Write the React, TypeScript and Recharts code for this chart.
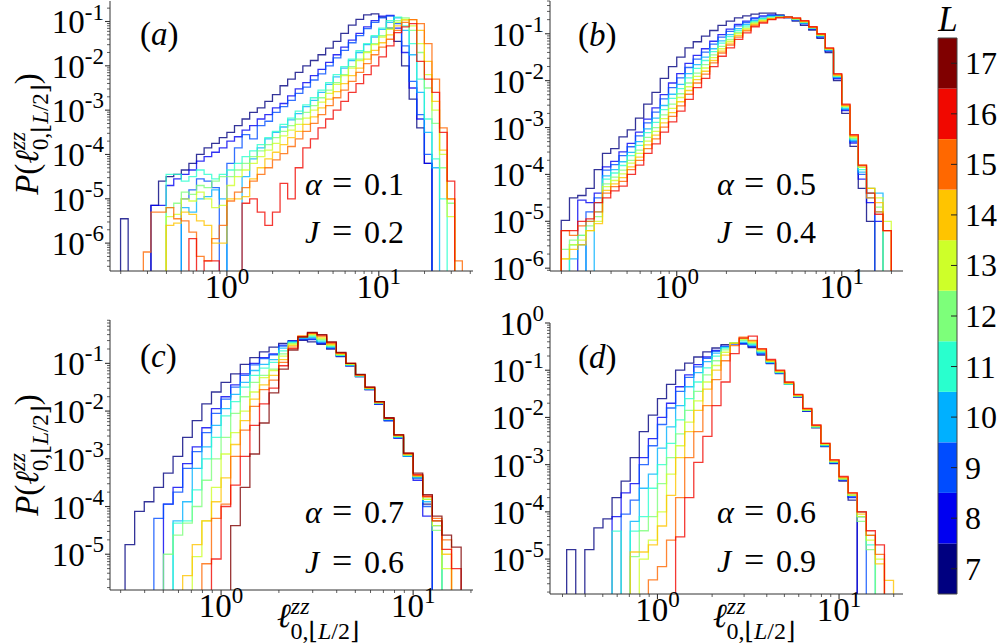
import React from 'react';
import { LineChart, Line, XAxis, YAxis, ComposedChart, ReferenceArea } from 'recharts';

const FONT = "Liberation Serif, DejaVu Serif, Times New Roman, Tinos, Nimbus Roman, FreeSerif, Noto Serif, serif";
const FLOOR = 1e-12;
const AXIS = '#333333';

// ---- colour scale (L = 7 .. 17) ----
const L_VALUES = [7, 8, 9, 10, 11, 12, 13, 14, 15, 16, 17];
const L_COLORS = ['#000080', '#0000f1', '#004cff', '#00b0ff', '#29ffce', '#7dff7a', '#ceff29', '#ffc400', '#ff6800', '#f10800', '#800000'];

// ---- panel texts ----
const PANEL_LETTERS = ['a', 'b', 'c', 'd'];
const ALPHAS = ['0.1', '0.5', '0.7', '0.6'];
const JS = ['0.2', '0.4', '0.6', '0.9'];

// ---- panel (a): log10 bin edges and log10 P per bin (null = empty bin) ----
const aEdgesLog = [-0.7, -0.65, -0.6, -0.55, -0.5, -0.45, -0.4, -0.35, -0.3, -0.25, -0.2, -0.15, -0.1, -0.05, 0, 0.05, 0.1, 0.15, 0.2, 0.25, 0.3, 0.35, 0.4, 0.45, 0.5, 0.55, 0.6, 0.65, 0.7, 0.75, 0.8, 0.85, 0.9, 0.95, 1, 1.05, 1.1, 1.15, 1.2, 1.25, 1.3, 1.35, 1.4, 1.45, 1.5, 1.55];
const aL7 = [-5.45, null, null, null, -5.15, -4.6, -4.5, -4.45, -4.35, -4.2, -4.0, -3.85, -3.75, -3.62, -3.5, -3.35, -3.2, -3.05, -2.95, -2.8, -2.65, -2.45, -2.3, -2.15, -2.0, -1.88, -1.75, -1.6, -1.45, -1.27, -1.08, -0.95, -0.85, -0.83, -0.9, -1.15, -1.45, -2.0, -2.75, -3.4, -4.2, null, null, null, null];
const aL8 = [null, null, null, null, -5.15, -5.15, -4.7, -4.55, -4.45, -4.35, -4.15, -4.05, -3.95, -3.85, -3.7, -3.6, -3.45, -3.35, -3.2, -3.1, -2.95, -2.85, -2.68, -2.52, -2.38, -2.22, -2.08, -1.92, -1.75, -1.58, -1.42, -1.27, -1.12, -0.98, -0.88, -0.86, -1.15, -1.7, -2.5, -3.2, -4.2, null, null, null, null];
const aL9 = [null, null, null, null, null, null, null, null, -5.0, -4.8, -4.55, -4.6, -4.75, null, -4.2, -3.85, -3.55, -3.65, -3.35, -3.25, -3.05, -2.92, -2.78, -2.62, -2.48, -2.32, -2.18, -2.0, -1.82, -1.65, -1.48, -1.32, -1.16, -1.02, -0.92, -0.88, -1.05, -1.55, -2.35, -3.1, -4.0, null, null, null, null];
const aL10 = [null, null, null, null, null, null, null, null, -5.2, -5.3, -5.0, -4.95, -4.8, -5.0, null, null, -4.5, -4.1, -3.85, -3.65, -3.5, -3.38, -3.22, -3.08, -2.92, -2.78, -2.6, -2.42, -2.25, -2.05, -1.88, -1.7, -1.52, -1.35, -1.18, -1.02, -0.92, -1.2, -1.75, -2.6, -3.5, -4.3, null, null, null];
const aL11 = [null, null, null, null, null, null, -4.45, -4.45, -4.6, -4.5, -4.35, -4.45, -4.55, -4.45, -4.35, -4.2, -4.05, -3.92, -3.78, -3.62, -3.48, -3.32, -3.18, -3.02, -2.88, -2.72, -2.55, -2.38, -2.2, -2.02, -1.85, -1.66, -1.5, -1.32, -1.15, -0.98, -0.9, -1.1, -1.5, -2.3, -3.2, -4.1, -5.0, null, null];
const aL12 = [null, null, null, null, null, null, -5.2, -5.1, -4.85, -4.9, -4.7, -4.75, -4.6, -4.5, -4.5, -4.35, -4.2, -4.05, -3.92, -3.78, -3.62, -3.48, -3.35, -3.2, -3.05, -2.9, -2.72, -2.55, -2.38, -2.2, -2.02, -1.85, -1.68, -1.5, -1.32, -1.15, -0.98, -0.92, -1.2, -1.7, -2.5, -3.3, -4.3, -5.1, null];
const aL13 = [null, null, null, null, null, null, -5.4, -5.35, -5.0, -5.05, -4.85, -5.0, -5.2, -5.15, -4.7, -4.5, -4.35, -4.2, -4.05, -3.9, -3.75, -3.58, -3.45, -3.32, -3.18, -3.0, -2.82, -2.62, -2.42, -2.22, -2.05, -1.88, -1.7, -1.52, -1.35, -1.18, -1.02, -0.95, -1.1, -1.5, -2.2, -3.0, -4.0, -5.4, null];
const aL14 = [null, null, null, null, null, null, -5.6, -5.55, -5.3, -5.35, -5.5, -5.6, -6.0, -6.0, -5.0, -5.0, -4.95, -4.55, -4.3, -4.1, -3.95, -3.78, -3.62, -3.48, -3.32, -3.15, -2.95, -2.75, -2.58, -2.4, -2.22, -2.05, -1.85, -1.65, -1.48, -1.3, -1.1, -0.97, -0.96, -1.2, -1.9, -2.8, -3.9, -5.0, null];
const aL15 = [null, null, null, -6.2, -5.3, -5.3, -5.2, -5.45, -5.5, -5.75, -6.3, -6.4, -5.9, -5.6, -5.05, -4.85, -4.75, -4.6, -4.45, -4.3, -4.12, -3.98, -3.82, -3.65, -3.48, -3.3, -3.1, -2.9, -2.72, -2.55, -2.35, -2.15, -1.95, -1.75, -1.58, -1.4, -1.2, -1.02, -0.96, -1.05, -1.5, -2.3, -3.4, -5.0, -6.4];
const aL16 = [null, null, null, null, null, null, null, null, null, -5.9, null, -6.4, -6.4, null, null, null, -5.1, -5.0, -5.3, -5.6, -5.3, -4.65, -5.0, -4.3, -3.85, -3.65, -3.4, -3.2, -3.0, -2.8, -2.6, -2.4, -2.2, -2.0, -1.8, -1.55, -1.25, -1.12, -1.05, -1.9, -2.3, -2.6, -3.5, -4.6, null];

// ---- panel (b) ----
const bEdgesLog = [-0.7, -0.65, -0.6, -0.55, -0.5, -0.45, -0.4, -0.35, -0.3, -0.25, -0.2, -0.15, -0.1, -0.05, 0, 0.05, 0.1, 0.15, 0.2, 0.25, 0.3, 0.35, 0.4, 0.45, 0.5, 0.55, 0.6, 0.65, 0.7, 0.75, 0.8, 0.85, 0.9, 0.95, 1, 1.05, 1.1, 1.15, 1.2, 1.25, 1.3];
const bL7 = [-4.98, -4.5, -4.45, -4.3, -3.9, -3.55, -3.45, -3.2, -3.05, -2.8, -2.5, -2.25, -1.95, -1.7, -1.5, -1.3, -1.17, -1.05, -0.93, -0.82, -0.73, -0.66, -0.62, -0.58, -0.56, -0.56, -0.6, -0.66, -0.73, -0.82, -0.92, -1.1, -1.4, -2.0, -2.7, -3.4, -4.3, -5.0, null, null];
const bL8 = [null, null, -4.55, -4.6, -4.4, -3.84, -3.72, -3.52, -3.34, -3.1, -2.82, -2.58, -2.3, -2.05, -1.85, -1.63, -1.46, -1.32, -1.16, -1.02, -0.9, -0.8, -0.73, -0.66, -0.62, -0.6, -0.62, -0.65, -0.71, -0.79, -0.9, -1.07, -1.37, -1.96, -2.64, -3.33, -4.1, -4.6, -5.0, null];
const bL9 = [null, null, null, -4.8, -4.5, -3.91, -3.79, -3.6, -3.41, -3.18, -2.9, -2.67, -2.39, -2.15, -1.94, -1.72, -1.54, -1.39, -1.22, -1.07, -0.95, -0.83, -0.76, -0.68, -0.64, -0.61, -0.62, -0.65, -0.7, -0.78, -0.89, -1.06, -1.36, -1.94, -2.62, -3.3, -4.0, -4.4, null, null];
const bL10 = [null, -5.8, -5.5, null, -4.6, -4.03, -3.9, -3.73, -3.53, -3.3, -3.03, -2.8, -2.53, -2.29, -2.08, -1.85, -1.66, -1.5, -1.32, -1.15, -1.02, -0.89, -0.8, -0.72, -0.67, -0.63, -0.63, -0.65, -0.7, -0.77, -0.88, -1.05, -1.35, -1.93, -2.6, -3.28, -3.95, -4.3, -4.4, null];
const bL11 = [null, -5.5, -5.3, -5.0, -4.8, -4.1, -3.97, -3.81, -3.6, -3.38, -3.11, -2.89, -2.62, -2.38, -2.17, -1.94, -1.74, -1.57, -1.38, -1.2, -1.06, -0.93, -0.83, -0.74, -0.68, -0.64, -0.63, -0.65, -0.69, -0.76, -0.88, -1.04, -1.34, -1.91, -2.58, -3.25, -3.9, -4.5, -4.8, null];
const bL12 = [-5.6, -5.4, -5.3, -5.1, -4.9, -4.2, -4.06, -3.91, -3.7, -3.48, -3.21, -3.0, -2.73, -2.5, -2.28, -2.05, -1.84, -1.66, -1.45, -1.27, -1.12, -0.97, -0.86, -0.76, -0.7, -0.66, -0.64, -0.65, -0.68, -0.75, -0.87, -1.03, -1.33, -1.9, -2.56, -3.23, -3.85, -4.4, -4.7, null];
const bL13 = [-5.8, -5.5, -5.4, -5.2, -5.0, -4.26, -4.13, -3.99, -3.76, -3.55, -3.29, -3.08, -2.81, -2.59, -2.36, -2.13, -1.91, -1.73, -1.51, -1.32, -1.16, -1.0, -0.89, -0.78, -0.72, -0.67, -0.65, -0.65, -0.68, -0.74, -0.87, -1.03, -1.32, -1.89, -2.55, -3.21, -3.85, -4.3, -4.5, -5.0];
const bL14 = [-5.8, -5.6, -5.5, -5.2, -5.05, -4.34, -4.2, -4.07, -3.84, -3.63, -3.37, -3.16, -2.9, -2.68, -2.45, -2.21, -1.98, -1.8, -1.57, -1.37, -1.2, -1.04, -0.92, -0.8, -0.73, -0.68, -0.65, -0.65, -0.67, -0.74, -0.86, -1.02, -1.32, -1.88, -2.53, -3.19, -3.8, -4.3, -4.6, -5.2];
const bL15 = [-5.2, -5.3, -5.1, -5.0, -4.8, -4.4, -4.26, -4.15, -3.9, -3.7, -3.45, -3.24, -2.99, -2.76, -2.54, -2.29, -2.05, -1.86, -1.62, -1.41, -1.24, -1.07, -0.94, -0.82, -0.75, -0.69, -0.65, -0.65, -0.67, -0.73, -0.86, -1.01, -1.31, -1.87, -2.52, -3.17, -3.82, -4.5, -4.8, -5.2];
const bL16 = [-5.2, -5.2, -5.0, -4.95, -4.6, -4.5, -4.35, -4.25, -4.0, -3.8, -3.55, -3.35, -3.1, -2.88, -2.65, -2.4, -2.15, -1.95, -1.7, -1.48, -1.3, -1.12, -0.98, -0.85, -0.77, -0.7, -0.66, -0.64, -0.66, -0.72, -0.85, -1.0, -1.3, -1.85, -2.5, -3.15, -3.8, -4.4, -4.85, -5.2];

// ---- panel (c) ----
const cEdgesLog = [-0.5, -0.45, -0.4, -0.35, -0.3, -0.25, -0.2, -0.15, -0.1, -0.05, 0, 0.05, 0.1, 0.15, 0.2, 0.25, 0.3, 0.35, 0.4, 0.45, 0.5, 0.55, 0.6, 0.65, 0.7, 0.75, 0.8, 0.85, 0.9, 0.95, 1, 1.05, 1.1, 1.15, 1.2, 1.25];
const cL7 = [-4.8, -4.1, -3.9, -3.6, -3.3, -2.95, -2.55, -2.2, -1.85, -1.6, -1.4, -1.22, -1.02, -0.88, -0.76, -0.66, -0.58, -0.53, -0.52, -0.55, -0.6, -0.7, -0.86, -1.05, -1.28, -1.55, -1.85, -2.2, -2.55, -2.95, -3.4, -3.95, null, null, null];
const cL8 = [null, null, null, null, -3.95, -3.6, -3.1, -2.75, -2.35, -1.95, -1.7, -1.45, -1.22, -1.0, -0.88, -0.8, -0.62, -0.53, -0.5, -0.5, -0.58, -0.68, -0.85, -1.05, -1.28, -1.55, -1.86, -2.2, -2.57, -2.95, -3.45, -4.2, null, null, null];
const cL9 = [null, null, null, -4.25, -3.95, -3.7, -3.2, -2.85, -2.45, -2.05, -1.75, -1.5, -1.25, -1.03, -0.9, -0.82, -0.64, -0.54, -0.49, -0.49, -0.57, -0.68, -0.84, -1.04, -1.27, -1.54, -1.85, -2.2, -2.55, -2.95, -3.4, -4.0, null, null, null];
const cL10 = [null, null, null, null, null, -4.3, -3.9, -3.2, -2.75, -2.3, -1.95, -1.65, -1.4, -1.15, -1.02, -0.92, -0.68, -0.55, -0.47, -0.46, -0.55, -0.66, -0.84, -1.04, -1.27, -1.54, -1.84, -2.18, -2.55, -2.95, -3.4, -3.9, -4.4, null, null];
const cL11 = [null, null, null, null, null, -4.35, -4.3, -3.65, -3.0, -2.55, -2.1, -1.8, -1.5, -1.25, -1.1, -0.98, -0.74, -0.56, -0.46, -0.44, -0.53, -0.65, -0.83, -1.03, -1.26, -1.53, -1.83, -2.17, -2.54, -2.93, -3.38, -3.85, -4.3, null, null];
const cL12 = [null, null, null, null, -5.0, -4.6, -4.35, -4.0, -3.45, -3.0, -2.55, -2.05, -1.7, -1.4, -1.25, -1.12, -0.8, -0.58, -0.45, -0.42, -0.5, -0.63, -0.82, -1.02, -1.26, -1.53, -1.83, -2.17, -2.53, -2.92, -3.37, -3.85, -4.5, null, null];
const cL13 = [null, null, null, null, null, null, null, -5.05, -4.3, -3.6, -2.9, -2.45, -2.0, -1.6, -1.3, -1.15, -0.85, -0.6, -0.44, -0.4, -0.48, -0.62, -0.81, -1.02, -1.25, -1.52, -1.82, -2.16, -2.52, -2.92, -3.36, -3.85, -4.4, -5.3, null];
const cL14 = [null, null, null, null, null, null, -5.45, -4.8, -4.3, -3.9, -3.4, -2.7, -2.2, -1.75, -1.45, -1.25, -0.92, -0.63, -0.43, -0.38, -0.45, -0.6, -0.8, -1.01, -1.25, -1.52, -1.82, -2.16, -2.52, -2.9, -3.35, -3.8, -4.3, -5.0, null];
const cL15 = [null, null, null, null, null, null, null, null, -5.2, -4.25, -3.95, -2.95, -2.4, -1.9, -1.55, -1.35, -0.98, -0.66, -0.43, -0.37, -0.43, -0.58, -0.79, -1.0, -1.24, -1.51, -1.81, -2.15, -2.5, -2.9, -3.35, -3.8, -4.25, -4.7, null];
const cL16 = [null, null, null, null, null, null, null, null, null, -5.1, -4.0, -3.55, -2.95, -2.3, -1.85, -1.52, -1.05, -0.69, -0.44, -0.36, -0.41, -0.56, -0.78, -1.0, -1.24, -1.5, -1.8, -2.15, -2.5, -2.88, -3.33, -3.78, -4.3, -4.9, -5.3];
const cL17 = [null, null, null, null, null, null, null, null, null, null, null, -4.4, -3.6, -2.9, -2.25, -1.62, -1.12, -0.72, -0.45, -0.35, -0.4, -0.55, -0.77, -1.0, -1.23, -1.5, -1.8, -2.14, -2.5, -2.88, -3.3, -3.75, -4.2, -4.6, -4.85];

// ---- panel (d) ----
const dEdgesLog = [-0.5, -0.45, -0.4, -0.35, -0.3, -0.25, -0.2, -0.15, -0.1, -0.05, 0, 0.05, 0.1, 0.15, 0.2, 0.25, 0.3, 0.35, 0.4, 0.45, 0.5, 0.55, 0.6, 0.65, 0.7, 0.75, 0.8, 0.85, 0.9, 0.95, 1, 1.05, 1.1, 1.15, 1.2, 1.25, 1.3];
const dL7 = [-4.8, null, -4.8, -4.34, -4.15, -3.7, -3.35, -2.85, -2.3, -1.95, -1.6, -1.3, -1.0, -0.85, -0.72, -0.61, -0.53, -0.46, -0.43, -0.44, -0.52, -0.68, -0.86, -1.07, -1.3, -1.57, -1.87, -2.22, -2.62, -2.98, -3.35, -3.75, null, null, null, null];
const dL8 = [null, null, null, null, null, -4.1, -3.6, -3.4, -2.85, -2.45, -2.0, -1.7, -1.35, -1.1, -0.88, -0.72, -0.58, -0.49, -0.44, -0.44, -0.5, -0.66, -0.85, -1.06, -1.3, -1.56, -1.86, -2.2, -2.6, -2.96, -3.33, -3.7, null, null, null, null];
const dL9 = [null, null, null, null, null, null, -4.05, -3.75, -3.0, -2.6, -2.15, -1.8, -1.45, -1.15, -0.93, -0.75, -0.6, -0.5, -0.44, -0.43, -0.49, -0.65, -0.85, -1.06, -1.3, -1.56, -1.86, -2.2, -2.6, -2.96, -3.32, -3.68, -4.1, null, null, null];
const dL10 = [null, null, null, null, null, null, null, -4.2, -3.5, -3.2, -2.65, -2.2, -1.75, -1.35, -1.05, -0.82, -0.64, -0.51, -0.43, -0.41, -0.47, -0.63, -0.84, -1.05, -1.3, -1.55, -1.85, -2.2, -2.6, -2.95, -3.3, -3.65, -4.0, -4.5, null, null];
const dL11 = [null, null, null, null, null, -4.41, null, -4.41, -4.1, -3.5, -3.0, -2.55, -2.05, -1.6, -1.25, -0.95, -0.7, -0.53, -0.42, -0.38, -0.45, -0.61, -0.83, -1.05, -1.29, -1.55, -1.85, -2.2, -2.58, -2.94, -3.3, -3.65, -4.1, -4.7, null, null];
const dL12 = [null, null, null, null, null, null, null, -4.95, -4.4, -4.1, -3.4, -2.85, -2.35, -1.85, -1.45, -1.1, -0.8, -0.57, -0.42, -0.36, -0.43, -0.6, -0.82, -1.04, -1.29, -1.55, -1.85, -2.2, -2.58, -2.94, -3.3, -3.65, -4.2, -4.8, null, null];
const dL13 = [null, null, null, null, null, null, null, null, -5.0, -4.6, -4.0, -3.2, -2.6, -2.1, -1.65, -1.25, -0.9, -0.62, -0.42, -0.34, -0.41, -0.58, -0.81, -1.03, -1.28, -1.54, -1.84, -2.18, -2.57, -2.93, -3.3, -3.65, -4.1, -4.6, -5.0, null];
const dL14 = [null, null, null, null, null, null, null, -4.85, -4.85, -4.7, -4.3, -3.65, -2.85, -2.3, -1.85, -1.4, -1.0, -0.68, -0.43, -0.32, -0.39, -0.57, -0.8, -1.02, -1.27, -1.53, -1.83, -2.18, -2.56, -2.92, -3.28, -3.62, -4.05, -4.5, -5.1, -5.45];
const dL15 = [null, null, null, null, null, null, null, null, null, -5.44, -5.16, -4.6, -3.7, -2.85, -2.3, -1.75, -1.2, -0.8, -0.48, -0.3, -0.37, -0.55, -0.79, -1.01, -1.26, -1.52, -1.82, -2.17, -2.55, -2.9, -3.27, -3.6, -4.0, -4.5, -4.9, null];
const dL16 = [null, null, null, null, null, null, null, null, null, null, null, null, -4.53, -3.7, -2.95, -2.4, -1.75, -1.25, -0.65, -0.32, -0.28, -0.55, -0.77, -1.0, -1.25, -1.51, -1.81, -2.16, -2.55, -2.9, -3.25, -3.6, -4.0, -4.4, -4.7, null];

type Vals = (number | null)[];

function stepPoints(edgesLog: number[], vals: Vals) {
  let first = 0;
  while (first < vals.length && vals[first] === null) first++;
  let last = vals.length - 1;
  while (last >= 0 && vals[last] === null) last--;
  const pts: { x: number; y: number }[] = [];
  if (first > last) return pts;
  const edge = (i: number) => Math.pow(10, edgesLog[i]);
  pts.push({ x: edge(first), y: FLOOR });
  for (let i = first; i <= last; i++) {
    const v = vals[i];
    pts.push({ x: edge(i), y: v === null ? FLOOR : Math.pow(10, v) });
  }
  pts.push({ x: edge(last + 1), y: Math.pow(10, vals[last] as number) });
  pts.push({ x: edge(last + 1), y: FLOOR });
  return pts;
}

// tick positions for a log axis (decoration): m * 10^k inside [lo, hi]
function logTicks(lo: number, hi: number) {
  const out: number[] = [];
  for (let k = Math.floor(Math.log10(lo)); k <= Math.ceil(Math.log10(hi)); k++) {
    for (let m = 1; m <= 9; m++) {
      const v = Number((m * Math.pow(10, k)).toPrecision(6));
      if (v >= lo && v <= hi) out.push(v);
    }
  }
  return out;
}

const isMajor = (v: number) => {
  const lg = Math.log10(v);
  return Math.abs(lg - Math.round(lg)) < 1e-6;
};
const expText = (v: number) => {
  const e = Math.round(Math.log10(v));
  return e < 0 ? '-' + -e : String(e);
};

const TXT = { fontFamily: FONT };

const XTick = (props: any) => {
  const { x, y, payload } = props;
  const v = payload.value;
  const major = isMajor(v);
  return (
    <g>
      <line x1={x} x2={x} y1={y} y2={y + (major ? 5 : 3)} stroke={AXIS} strokeWidth={major ? 1.1 : 0.8} />
      {major && (
        <text x={x} y={y + 27} textAnchor="middle" style={TXT} fontSize={33} fill="#000">
          10<tspan dy={-14} fontSize={23}>{expText(v)}</tspan>
        </text>
      )}
    </g>
  );
};

const YTick = (props: any) => {
  const { x, y, payload } = props;
  const v = payload.value;
  const major = isMajor(v);
  return (
    <g>
      <line x1={x - (major ? 5 : 3)} x2={x} y1={y} y2={y} stroke={AXIS} strokeWidth={major ? 1.1 : 0.8} />
      {major && (
        <text x={x - 6} y={y + 12} textAnchor="end" style={TXT} fontSize={33} fill="#000">
          10<tspan dy={-14} fontSize={23}>{expText(v)}</tspan>
        </text>
      )}
    </g>
  );
};

type PanelCfg = {
  left: number; top: number; width: number; height: number;
  margin: { top: number; right: number; bottom: number; left: number };
  yw: number; xh: number;
  xDomain: [number, number]; yDomain: [number, number];
  edges: number[]; series: Vals[];
};

const PANELS: PanelCfg[] = [
  { left: 0, top: 0, width: 480, height: 320, margin: { top: 1, right: 7, bottom: 0, left: 0 }, yw: 110, xh: 49,
    xDomain: [0.17, 41.7], yDomain: [2.35e-7, 0.29], edges: aEdgesLog,
    series: [aL7, aL8, aL9, aL10, aL11, aL12, aL13, aL14, aL15, aL16] },
  { left: 440, top: 0, width: 470, height: 320, margin: { top: 1, right: 7, bottom: 0, left: 0 }, yw: 110, xh: 49,
    xDomain: [0.1706, 23.5], yDomain: [8.7e-7, 0.5], edges: bEdgesLog,
    series: [bL7, bL8, bL9, bL10, bL11, bL12, bL13, bL14, bL15, bL16] },
  { left: 0, top: 300, width: 480, height: 340, margin: { top: 20, right: 7, bottom: 0, left: 0 }, yw: 110, xh: 50,
    xDomain: [0.264, 20.5], yDomain: [1.78e-6, 0.81], edges: cEdgesLog,
    series: [cL7, cL8, cL9, cL10, cL11, cL12, cL13, cL14, cL15, cL16, cL17] },
  { left: 440, top: 300, width: 470, height: 340, margin: { top: 23, right: 7, bottom: 0, left: 0 }, yw: 110, xh: 46,
    xDomain: [0.256, 22.5], yDomain: [1.82e-6, 1.0], edges: dEdgesLog,
    series: [dL7, dL8, dL9, dL10, dL11, dL12, dL13, dL14, dL15, dL16] },
];

function HistPanel({ cfg }: { cfg: PanelCfg }) {
  const xTicks = logTicks(cfg.xDomain[0], cfg.xDomain[1]);
  const yTicks = logTicks(cfg.yDomain[0], cfg.yDomain[1]);
  return (
    <div style={{ position: 'absolute', left: cfg.left, top: cfg.top, width: cfg.width, height: cfg.height }}>
      <LineChart width={cfg.width} height={cfg.height} margin={cfg.margin}>
        <XAxis xAxisId="b" dataKey="x" type="number" scale="log" domain={cfg.xDomain} allowDataOverflow
          ticks={xTicks} interval={0} tickSize={0} tickMargin={0} tickLine={false} height={cfg.xh}
          axisLine={{ stroke: AXIS, strokeWidth: 1 }} tick={<XTick />} />
        <XAxis xAxisId="t" orientation="top" type="number" scale="log" domain={cfg.xDomain} allowDataOverflow
          height={0} tick={false} tickLine={false} axisLine={{ stroke: AXIS, strokeWidth: 1 }} />
        <YAxis yAxisId="l" dataKey="y" type="number" scale="log" domain={cfg.yDomain} allowDataOverflow
          ticks={yTicks} interval={0} tickSize={0} tickMargin={0} tickLine={false} width={cfg.yw}
          axisLine={{ stroke: AXIS, strokeWidth: 1 }} tick={<YTick />} />
        <YAxis yAxisId="r" orientation="right" type="number" scale="log" domain={cfg.yDomain} allowDataOverflow
          width={0} tick={false} tickLine={false} axisLine={{ stroke: AXIS, strokeWidth: 1 }} />
        {cfg.series.map((vals, i) => (
          <Line key={i} xAxisId="b" yAxisId="l" data={stepPoints(cfg.edges, vals)} dataKey="y" type="stepAfter"
            stroke={L_COLORS[i]} strokeWidth={1.3} strokeOpacity={0.8} dot={false} activeDot={false}
            isAnimationActive={false} />
        ))}
      </LineChart>
    </div>
  );
}

const CbTick = (props: any) => {
  const { x, y, payload } = props;
  return (
    <g>
      <line x1={x - 6} x2={x} y1={y} y2={y} stroke="#222" strokeWidth={1} />
      <text x={x + 8} y={y + 11} style={TXT} fontSize={32} fill="#000">{String(payload.value)}</text>
    </g>
  );
};

function ColorBar() {
  const cbData = [{ x: 0, y: 7 }, { x: 1, y: 17 }];
  return (
    <div style={{ position: 'absolute', left: 930, top: 0, width: 67, height: 644 }}>
      <ComposedChart width={67} height={644} data={cbData} margin={{ top: 38, right: 0, bottom: 50, left: 8 }}>
        <XAxis type="number" dataKey="x" domain={[0, 1]} hide />
        <YAxis type="number" dataKey="y" orientation="right" domain={[6.5, 17.5]} ticks={L_VALUES} interval={0}
          width={40} axisLine={false} tickLine={false} tickSize={0} tickMargin={0} tick={<CbTick />} />
        {L_VALUES.map((L, i) => (
          <ReferenceArea key={L} x1={0} x2={1} y1={L - 0.5} y2={L + 0.5} fill={L_COLORS[i]} fillOpacity={1}
            stroke="none" ifOverflow="visible" />
        ))}
        <ReferenceArea x1={0} x2={1} y1={6.5} y2={17.5} fill="none" fillOpacity={0} stroke="#444" strokeWidth={1} ifOverflow="visible" />
      </ComposedChart>
    </div>
  );
}

const YLabel = ({ cx, cy }: { cx: number; cy: number }) => (
  <text transform={`translate(${cx},${cy}) rotate(-90)`} textAnchor="middle" style={TXT} fontSize={33} fill="#000">
    <tspan fontStyle="italic">P</tspan>
    <tspan>(</tspan>
    <tspan fontStyle="italic">ℓ</tspan>
    <tspan fontSize={23} fontStyle="italic" dy={-13}>zz</tspan>
    <tspan fontSize={23} dx={-18} dy={23}>0,⌊<tspan fontStyle="italic">L</tspan>/2⌋</tspan>
    <tspan dy={-10}>)</tspan>
  </text>
);

const XLabel = ({ cx, y }: { cx: number; y: number }) => (
  <text x={cx} y={y} textAnchor="middle" style={TXT} fontSize={34} fill="#000">
    <tspan fontStyle="italic">ℓ</tspan>
    <tspan fontSize={24} fontStyle="italic" dy={-13}>zz</tspan>
    <tspan fontSize={24} dx={-19} dy={25}>0,⌊<tspan fontStyle="italic">L</tspan>/2⌋</tspan>
  </text>
);

const Annot = ({ x, yA, yJ, a, j }: { x: number; yA: number; yJ: number; a: string; j: string }) => (
  <g style={TXT} fontSize={32} fill="#000">
    <text x={x} y={yA} fontStyle="italic">α</text>
    <text x={x + 27} y={yA} fontSize={36}>=</text>
    <text x={x + 59} y={yA}>{a}</text>
    <text x={x} y={yJ} fontStyle="italic">J</text>
    <text x={x + 27} y={yJ} fontSize={36}>=</text>
    <text x={x + 59} y={yJ}>{j}</text>
  </g>
);

const Letter = ({ x, y, t }: { x: number; y: number; t: string }) => (
  <text x={x} y={y} style={TXT} fontSize={33} fill="#000">
    (<tspan fontStyle="italic">{t}</tspan>)
  </text>
);

export default function App() {
  return (
    <div style={{ position: 'absolute', left: 0, top: 0, width: 997, height: 644, background: '#fff', overflow: 'hidden' }}>
      {PANELS.map((p, i) => <HistPanel key={i} cfg={p} />)}
      <ColorBar />
      <svg width={997} height={644} style={{ position: 'absolute', left: 0, top: 0, pointerEvents: 'none' }}>
        <Letter x={140} y={45} t={PANEL_LETTERS[0]} />
        <Letter x={578} y={46} t={PANEL_LETTERS[1]} />
        <Letter x={140} y={367} t={PANEL_LETTERS[2]} />
        <Letter x={578} y={368} t={PANEL_LETTERS[3]} />
        <Annot x={305} yA={195} yJ={243} a={ALPHAS[0]} j={JS[0]} />
        <Annot x={717} yA={195} yJ={243} a={ALPHAS[1]} j={JS[1]} />
        <Annot x={305} yA={523} yJ={573} a={ALPHAS[2]} j={JS[2]} />
        <Annot x={717} yA={523} yJ={572} a={ALPHAS[3]} j={JS[3]} />
        <YLabel cx={38} cy={134} />
        <YLabel cx={38} cy={455} />
        <XLabel cx={318} y={627} />
        <XLabel cx={754} y={627} />
        <text x={948} y={31} textAnchor="middle" style={TXT} fontSize={35} fontStyle="italic" fill="#000">L</text>
      </svg>
    </div>
  );
}
